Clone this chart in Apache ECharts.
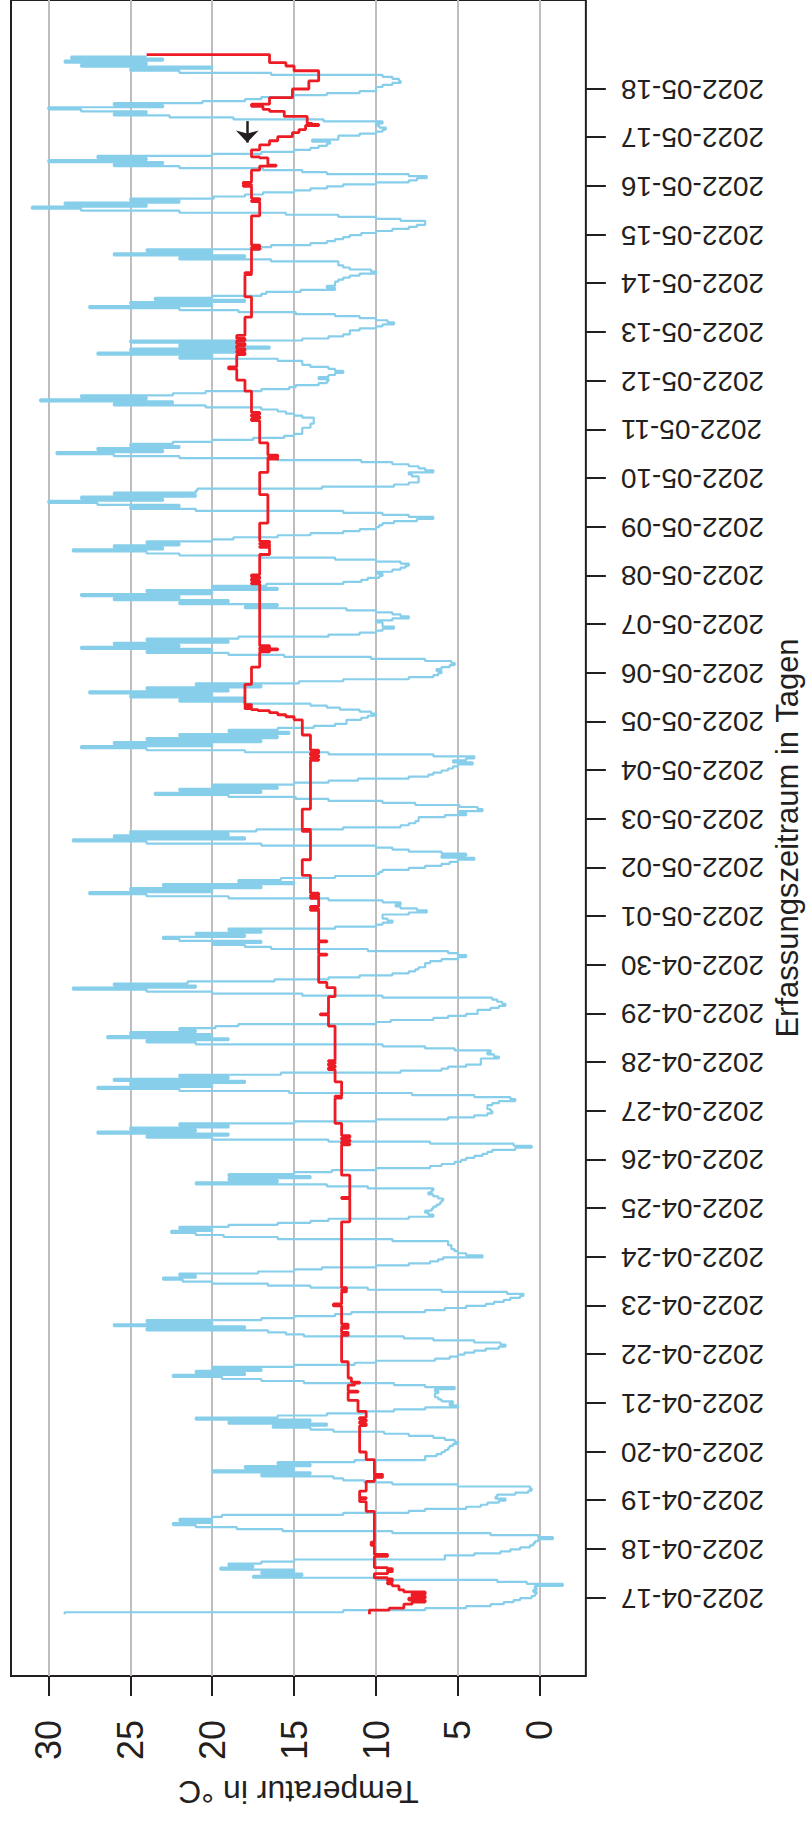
<!DOCTYPE html>
<html><head><meta charset="utf-8">
<script src="https://cdn.jsdelivr.net/npm/echarts@6.0.0/dist/echarts.min.js"></script>
<style>
html,body{margin:0;padding:0;width:808px;height:1822px;overflow:hidden;background:#fff;}
#rot{position:absolute;left:0;top:0;width:1822px;height:808px;transform-origin:0 0;transform:translate(0px,1822px) rotate(-90deg);}
#chart{width:1822px;height:808px;}
</style></head><body>
<div id="rot"><div id="chart"></div></div>
<script>
// ---------- tick labels ----------
const tempTicks = [0, 5, 10, 15, 20, 25, 30];
const dateTickLabels = ['2022-04-17','2022-04-18','2022-04-19','2022-04-20','2022-04-21','2022-04-22','2022-04-23','2022-04-24','2022-04-25','2022-04-26','2022-04-27','2022-04-28','2022-04-29','2022-04-30','2022-05-01','2022-05-02','2022-05-03','2022-05-04','2022-05-05','2022-05-06','2022-05-07','2022-05-08','2022-05-09','2022-05-10','2022-05-11','2022-05-12','2022-05-13','2022-05-14','2022-05-15','2022-05-16','2022-05-17','2022-05-18'];

// ---------- blue series: hourly values per day (first day starts 16:00) ----------
const blueFirstHour = 16;
const b0416 = [29, 12, 7, 4.5, 3, 2.2, 1.6, 1.2];
const b0417 = [0.5,0.3,0.2,0.4,0.2,0.3,-1.4,0.8,2.6,10,17.5,14.5,17,15,19.5,17.5,19,17,15,5.8,5.8,4,2.4,1.8];
const b0418 = [1.2,0.6,0.4,0.3,0.1,-0.8,0.1,3,9,15.7,18.5,21,22.4,20,22,20,19.4,12,8,7,4.5,3.6,3.2,2.5];
const b0419 = [2.1,2.7,2.6,1.5,0.7,0.5,0.6,5,9,10.7,12,12.6,17,14,20,15,18,14,16,11.3,7,7,6.3,6];
const b0420 = [5.8,5.6,5.5,5.3,5.0,5.2,5.8,6.5,8,9.5,12.6,14,16.3,13,19,14,21,16,13,10.7,8.9,7,5,5.5];
const b0421 = [5.3,6,6.2,6.4,6.4,6.2,6.4,5.2,7,8.9,14.4,17,19.4,22.4,18,21,17,20,15,11.3,10,6.4,5.5,5];
const b0422 = [4.6,4,3.3,2.5,2.1,2.4,4,6.5,8.3,14.4,15.5,16.6,24,18,26,20,24,17,15,12.5,11.5,7,5.8,4.5];
const b0423 = [3.3,2.8,2.2,1.8,1.2,1.0,2,6,10.5,14,16.6,20,21.8,23,21,22,17.2,15,13.3,10,8,6.7,6.2,5.9];
const b0424 = [3.5,4.5,5,5.2,5.4,5.4,5.6,5.6,9,16,19.3,21,22.5,20,22,19,16,14,12.9,8,6.5,6.8,7,6.6];
const b0425 = [6.5,6.3,6.1,6,5.9,6.2,6.5,6.8,6.6,6.5,10.5,13,21,16,19,14,19,15,12.7,10,6.7,6,5.2,4.8];
const b0426 = [4.5,4,3.5,3.2,2.9,1.5,0.5,1.6,6.7,12.9,20,24,19,27,21,25,19,22,15,10,5.6,4,3.2,2.9];
const b0427 = [3,3.2,3.2,2.9,2.5,1.5,1.8,4,7.8,15.3,22,27,20,25,18,26,19,22,15.8,8.5,6,5.6,4.5,3.6];
const b0428 = [3.6,3.6,2.5,2.8,3.2,3,5.2,7,9.6,21,24,19,26.4,20,25,21,22,19.8,18.4,10,9.1,6.5,5.6,4.5];
const b0429 = [3.8,3.8,3,2.5,2.1,2.3,2.6,2.9,9.6,14.5,20,24,28.5,21,26,21.5,16.2,12.9,11,9,8,7.6,7.4,7];
const b0430 = [7,6.7,6,5,4.5,5,5.6,10.5,16.4,18,20,17,22,23,18,21,17,19,12.5,10,9.6,9,9.3,9.6];
const b0501 = [9.6,8,6.9,7.5,8.5,8.8,8.5,9.6,12.9,19,24,27.5,20,25,17,23,15,18.4,15.8,12.5,10,9.8,9.6,8];
const b0502 = [7,6,5.5,5,4,6,4.5,6,8,9,10,17,24,28.5,18,26,19,25,17.3,12,8.5,8,7.6,7.4];
const b0503 = [7.4,5.8,4.5,5,3.5,3.8,4.9,7.6,9.6,12.9,14.9,19,23.5,17,22,16,20,15,12.9,11.1,8,6.8,6.5,6];
const b0504 = [5.6,5.3,5,4.1,5.3,4.5,4,6.5,12.9,18,24,28,20,26,17,24,16,22,15.3,19,16,13.8,12.5,11.8];
const b0505 = [11.8,10.9,10.5,10,10.3,11,12.2,13,14,18,22,18,25,20,27.5,19,24,17,21,14.7,12,8,6.5,6.2];
const b0506 = [6,6.3,6,5.5,5.2,5.4,7,10.3,15.6,19,24,20,28,22,26,19,24,18.4,12.9,11,10,9.6,8.9,9.6];
const b0507 = [9.6,10,9,8,8.5,9,10,11.8,18,16,22,19,26,22,28,20,24,16,20,16.7,12,10.9,10.5,9.8];
const b0508 = [9.6,10,9,8.5,8.2,8,8.5,10,12.5,17,22,24,28.5,23,26,22,24,20,18.7,16,14,12,11,10];
const b0509 = [9.8,9.6,8.9,7.5,6.5,8,9.6,12,21,25,22,27,30,23,28,21,26,21,20.9,13.3,8.9,8,7.4,7.4];
const b0510 = [7.4,7.8,8,6.5,7,7.4,8,9,10.9,16,22,26,29.5,23,27,22,25,22.4,20,17.5,15.6,15,14.5,14.5];
const b0511 = [14.5,14,14,13.8,13.8,13.8,14.5,15,15.5,16,17,20.4,26,22.4,30.5,24,28,22.4,20.4,17,15.3,14.9,13.5,13];
const b0512 = [12.9,13.5,12.9,12.5,12,12.5,12.9,14,14.5,14.5,16,22,20,27,18,25,16.5,22,18,25,14.5,12.9,12,11.6];
const b0513 = [11.6,11,10,9.6,8.9,9.3,10,11,12.5,14.9,18.4,22,27.5,20,25,18,23.5,20,17,16.7,14.6,12.5,13,12.5];
const b0514 = [12.5,12.3,12,11.6,11,10,10.3,11.6,12,12.3,12.3,16.4,22,18,26,20,24,17,16.4,14,13,12.5,12,11.6];
const b0515 = [10.9,10,9,8,7.5,7,7,8.5,10,12.3,15.5,22,28,31,24,29,22,25,19.9,18,16.9,15,14,13];
const b0516 = [12,10,8,7.5,6.9,8,13,14.5,16.9,22,26,23,30,24,27,20,17,15,14,13.5,13,12.8,13.9,12.3];
const b0517 = [12.3,11,10,9.6,9.4,9.8,10,9.6,13.2,18.7,22.6,26,24,28,30,23,26,20.6,18,17,15,13,11,10];
const b0518 = [10,9.6,9,8.5,8.6,9,9.6,16.4,22,25,20,28,24,29,23,28.6,24];
const blueDayArrays = [b0416,b0417,b0418,b0419,b0420,b0421,b0422,b0423,b0424,b0425,b0426,b0427,b0428,b0429,b0430,
  b0501,b0502,b0503,b0504,b0505,b0506,b0507,b0508,b0509,b0510,b0511,b0512,b0513,b0514,b0515,b0516,b0517,b0518];

// ---------- red series: change points (step line) ----------
const redTimes = ['04-16 16:00','04-16 18:00','04-16 19:00','04-16 21:00','04-16 22:00','04-16 23:00','04-17 00:00','04-17 01:00','04-17 02:00','04-17 03:00','04-17 04:00','04-17 06:00','04-17 07:00','04-17 08:00','04-17 08:30','04-17 09:00','04-17 09:30','04-17 10:00','04-17 12:00','04-17 13:00','04-17 13:30','04-17 14:00','04-17 14:30','04-17 15:00','04-17 20:30','04-17 21:30',
'04-18 02:00','04-18 02:30','04-18 03:00','04-18 03:30','04-18 18:45','04-18 23:30','04-19 01:00','04-19 01:30','04-19 04:45','04-19 09:30','04-19 11:30','04-19 12:00','04-19 12:30','04-19 13:00','04-19 20:15',
'04-20 00:00','04-20 13:00','04-20 14:00','04-20 15:00','04-20 16:00','04-20 17:00','04-20 20:00','04-21 01:30','04-21 05:30','04-21 06:00','04-21 09:00','04-21 10:00','04-21 10:30','04-21 12:30','04-21 20:30',
'04-22 09:30','04-22 10:00','04-22 10:30','04-22 11:00','04-22 13:00','04-22 13:30','04-22 14:00','04-22 15:00','04-23 00:00','04-23 01:00','04-23 07:00','04-23 07:30','04-23 08:00','04-23 09:00',
'04-24 17:30','04-25 05:00','04-25 05:30','04-25 16:30','04-26 07:30','04-26 08:00','04-26 09:00','04-26 10:00','04-26 11:00','04-26 12:00','04-26 18:00','04-27 06:30','04-27 07:00','04-27 07:30','04-27 14:30','04-27 20:30','04-27 21:30','04-27 22:30','04-27 23:30','04-28 00:30','04-28 01:00','04-28 18:00','04-28 23:30','04-29 00:00','04-29 08:30','04-29 13:00','04-29 15:30',
'04-30 05:00','04-30 05:30','04-30 11:30','04-30 12:00','05-01 03:00','05-01 03:30','05-01 04:00','05-01 05:00','05-01 09:00','05-01 09:30','05-01 10:00','05-01 10:30','05-01 11:30','05-01 20:15','05-02 04:00','05-02 18:00','05-02 18:30','05-02 19:00','05-03 05:00',
'05-04 05:00','05-04 05:30','05-04 06:30','05-04 07:30','05-04 08:30','05-04 10:00','05-04 17:30','05-05 01:00','05-05 02:30','05-05 03:30','05-05 04:30','05-05 05:30','05-05 06:00','05-05 06:30','05-05 07:00','05-05 07:30','05-05 08:00','05-05 08:30','05-05 18:30',
'05-06 03:00','05-06 10:30','05-06 11:00','05-06 11:30','05-06 12:00','05-06 12:30','05-06 13:30','05-07 20:00','05-07 20:30','05-07 21:30','05-07 22:30','05-07 23:30','05-08 00:30','05-08 10:30','05-08 14:00','05-08 14:30','05-08 15:30','05-08 16:00','05-08 17:00',
'05-09 02:00','05-09 16:00','05-10 03:00','05-10 09:30','05-10 10:00','05-10 10:30','05-10 11:30','05-10 17:30','05-11 04:30','05-11 05:30','05-11 06:30','05-11 07:30','05-11 08:30','05-11 19:00','05-12 00:30','05-12 06:00','05-12 07:00','05-12 13:00','05-12 14:00','05-12 15:00','05-12 16:00','05-12 17:30','05-12 18:30','05-12 20:00','05-12 21:00','05-12 22:30','05-13 07:30','05-13 17:30',
'05-14 04:30','05-14 05:00','05-14 05:30','05-14 17:00','05-14 17:30','05-14 18:00','05-14 19:00','05-15 09:30','05-15 16:30','05-15 17:00','05-15 18:00','05-16 00:00','05-16 00:30','05-16 01:00','05-16 02:00','05-16 08:00','05-16 10:00','05-16 10:30','05-16 14:00','05-16 14:30','05-16 18:00','05-16 20:30','05-16 22:30',
'05-17 00:30','05-17 02:30','05-17 04:00','05-17 06:00','05-17 06:30','05-17 07:00','05-17 10:30','05-17 13:00','05-17 14:00','05-17 15:30','05-17 16:30','05-17 19:45','05-18 00:00','05-18 04:00','05-18 09:00','05-18 11:20','05-18 13:00','05-18 17:00'];
const redTemps = [10.4,9.2,8.3,7.8,7.0,8.0,7.0,7.8,7.0,8.3,8.6,9.0,9.3,9.0,9.3,9.0,9.3,10.1,9.3,9.0,9.3,9.0,9.3,10.1,9.3,10.1,
10.3,10.1,10.3,10.1,10.6,11.0,10.6,11.0,10.6,10.1,9.6,10.1,9.6,10.1,10.6,
11.0,10.6,11.0,10.6,11.0,10.6,11.1,11.7,11.1,11.7,11.3,11.0,11.5,11.7,12.1,
11.7,12.1,11.7,12.1,11.7,12.1,11.7,12.1,12.6,12.1,11.8,12.1,11.8,12.1,
11.6,12.1,11.6,12.1,11.6,12.1,11.6,12.1,11.6,12.1,12.5,12.1,12.5,12.1,12.5,12.9,12.5,12.9,12.5,12.9,12.5,12.9,13.4,12.9,12.5,13.0,13.5,
13.0,13.5,13.0,13.5,14.0,13.5,14.0,13.5,14.0,13.5,14.0,13.5,14.0,14.5,14.0,14.5,14.0,14.5,14.0,
13.5,14.0,13.5,14.0,13.5,14.0,14.5,15.0,15.5,16.0,16.5,17.2,17.6,18.0,17.6,18.0,17.6,18.0,17.6,
17.1,16.5,17.1,16.0,17.1,16.5,17.1,17.6,17.1,17.6,17.1,17.6,17.1,16.5,17.1,16.5,17.1,16.5,17.1,
16.6,17.1,16.6,16.0,16.6,16.0,16.6,17.1,17.6,17.1,17.6,17.1,17.6,18.0,18.5,19.0,18.5,18.0,18.5,18.0,18.5,18.0,18.5,18.0,18.5,18.0,17.6,18.0,
17.6,18.0,17.6,17.1,17.6,17.1,17.6,17.1,17.6,17.1,17.6,18.1,17.6,18.1,17.6,17.1,16.1,16.6,17.1,17.6,17.1,16.5,16.0,
15.1,14.7,14.3,13.5,13.9,14.2,15.6,16.5,16.9,17.6,16.5,15.1,14.1,13.5,15.0,15.5,16.5,24.0];

// ---------- annotation arrow (temperature level, from -> to time) ----------
const arrowTemp = 17.86;
const arrowFrom = '05-17 08:10';
const arrowTo = '05-16 21:35';

// ---------- axis range ----------
const timeMin = '2022-04-15 09:34';
const timeMax = '2022-05-19 19:53';
const tempMin = -2.81, tempMax = 32.28;

function ts(str) { // 'YYYY-MM-DD HH:mm' or 'MM-DD HH:mm' (2022)
  let s = str.length <= 11 ? '2022-' + str : str;
  const [d, t] = s.split(' ');
  const [y, m, dd] = d.split('-').map(Number);
  const [hh, mm] = (t || '00:00').split(':').map(Number);
  return Date.UTC(y, m - 1, dd, hh, mm);
}
const blueData = [];
blueDayArrays.forEach((arr, di) => {
  const base = Date.UTC(2022, 3, 16 + di, 0, 0);
  const h0 = di === 0 ? blueFirstHour : 0;
  arr.forEach((v, k) => blueData.push([base + (h0 + k) * 3600000, v]));
});
const redData = redTimes.map((t, i) => [ts(t), redTemps[i]]);
const dateTickTs = dateTickLabels.map(s => ts(s + ' 00:00'));
const labelMap = {};
dateTickTs.forEach((v, i) => labelMap[v] = dateTickLabels[i]);

const FONT = '"Liberation Sans", Arial, Helvetica, sans-serif';
const INK = '#231f20';
const chart = echarts.init(document.getElementById('chart'), null, {renderer: 'svg'});
chart.setOption({
  animation: false,
  backgroundColor: '#ffffff',
  textStyle: {fontFamily: FONT},
  grid: {left: 146, right: -2, top: 11, bottom: 211, show: true, borderColor: INK, borderWidth: 2, backgroundColor: 'transparent'},
  xAxis: {
    type: 'value', min: ts(timeMin), max: ts(timeMax), scale: true,
    axisLine: {show: false, onZero: false},
    axisTick: {show: true, customValues: dateTickTs, length: 20, lineStyle: {color: INK, width: 2}},
    axisLabel: {customValues: dateTickTs, rotate: 90, fontSize: 28, margin: 35, color: INK, fontFamily: FONT,
      padding: [10, 0, 0, 0], formatter: v => labelMap[v] || ''},
    splitLine: {show: false},
    name: 'Erfassungszeitraum in Tagen', nameLocation: 'middle', nameGap: 181,
    nameTextStyle: {fontSize: 31, color: INK, fontFamily: FONT}
  },
  yAxis: {
    type: 'value', min: tempMin, max: tempMax,
    axisLine: {show: false, onZero: false},
    axisTick: {show: true, customValues: tempTicks, length: 20, lineStyle: {color: INK, width: 2}},
    axisLabel: {customValues: tempTicks, fontSize: 36, margin: 44, color: INK, fontFamily: FONT, padding: [6, 0, 0, 0]},
    splitLine: {show: true, lineStyle: {color: '#bebebe', width: 2}},
    name: 'Temperatur in °C', nameLocation: 'middle', nameRotate: 90, nameGap: 100,
    nameTextStyle: {fontSize: 32, color: INK, fontFamily: FONT}
  },
  series: [
    {type: 'line', data: blueData, step: 'end', showSymbol: false, symbol: 'none',
      lineStyle: {color: '#87ceeb', width: 2.2}, z: 2},
    {type: 'line', data: redData, step: 'end', showSymbol: false, symbol: 'none',
      lineStyle: {color: '#ed1c24', width: 2.8}, z: 3,
      markLine: {silent: true, symbol: ['none', 'arrow'], symbolSize: [17, 12], label: {show: false},
        lineStyle: {color: INK, width: 2.5, type: 'solid'},
        data: [[{coord: [ts(arrowFrom), arrowTemp]}, {coord: [ts(arrowTo), arrowTemp]}]]}}
  ]
});
</script></body></html>
